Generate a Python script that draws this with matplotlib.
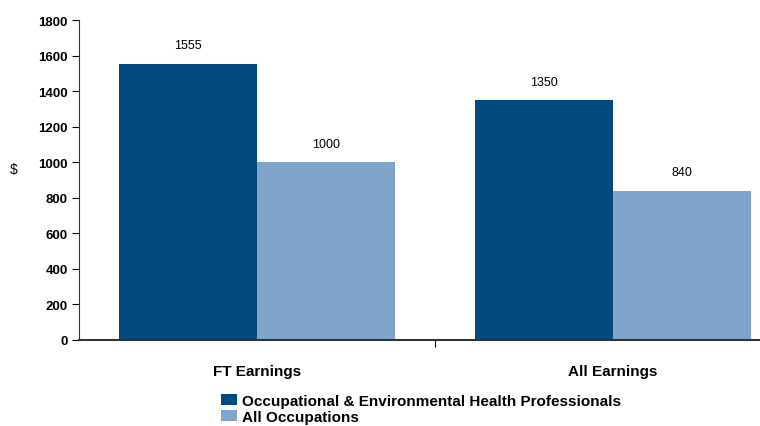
import numpy as np
import matplotlib.pyplot as plt
from matplotlib import font_manager

categories = ["FT Earnings", "All Earnings"]
series_names = ["Occupational & Environmental Health Professionals", "All Occupations"]
oehp_values = [1555, 1350]
all_values = [1000, 840]
yticks = [0, 200, 400, 600, 800, 1000, 1200, 1400, 1600, 1800]

names = {f.name for f in font_manager.fontManager.ttflist}
font = "Liberation Sans Narrow" if "Liberation Sans Narrow" in names else "Liberation Sans"
plt.rcParams['font.family'] = [font, 'DejaVu Sans']

fig = plt.figure(figsize=(7.6, 4.27), dpi=100)
# axes runs past right edge like the original (cropped)
ax = fig.add_axes([79 / 760, (427 - 341) / 427, (791 - 79) / 760, 320 / 427])

x = np.arange(len(categories))
w = 0.3866
b1 = ax.bar(x - w / 2, oehp_values, w, color="#004a80", label=series_names[0])
b2 = ax.bar(x + w / 2, all_values, w, color="#7fa5ca", label=series_names[1])

for bars, vals in [(b1, oehp_values), (b2, all_values)]:
    for r, v in zip(bars, vals):
        ax.text(r.get_x() + r.get_width() / 2, v + 70, str(v), ha="center",
                va="bottom", fontsize=9)

ax.set_xlim(-0.5, 1.5)
ax.set_ylim(0, 1800)
ax.set_yticks(yticks)
ax.set_yticklabels([str(t) for t in yticks], fontsize=9.5, fontweight="bold")
ax.set_xticks([0.5])
ax.set_xticklabels([""])
ax.tick_params(axis="x", length=5, direction="out")
ax.tick_params(axis="y", length=5, direction="out", pad=3)
for i, c in enumerate(categories):
    ax.text(x[i], -0.075, c, transform=ax.get_xaxis_transform(), ha="center",
            va="top", fontsize=11, fontweight="bold")
for s in ["top", "right"]:
    ax.spines[s].set_visible(False)
ax.spines["left"].set_color("#333333")
ax.spines["bottom"].set_color("#333333")
ax.spines["bottom"].set_linewidth(1.5)

fig.text(14 / 760, 1 - 170 / 427, "$", fontsize=10, ha="center", va="center")

fig.legend(loc="upper left", bbox_to_anchor=(213 / 760, 1 - 387 / 427),
           frameon=False, prop={"size": 11, "weight": "bold"},
           handlelength=1.1, handleheight=0.8, handletextpad=0.3,
           labelspacing=0.12, borderpad=0)

fig.savefig("out.png", dpi=100)
